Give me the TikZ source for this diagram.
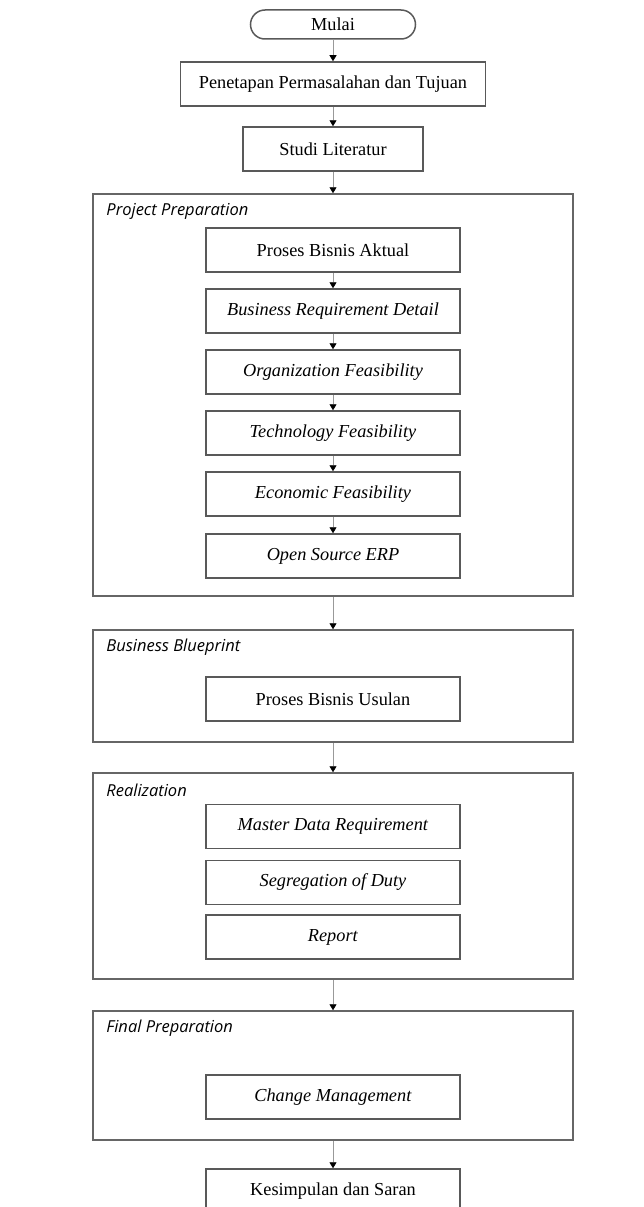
\documentclass[tikz,border=0pt]{standalone}
\usepackage{fontspec}
\setmainfont{Liberation Serif}
\newfontfamily\labfont{Open Sans}
\usetikzlibrary{arrows.meta}
\usetikzlibrary{shapes.misc}
\tikzset{stepbox/.style={rectangle, draw=black!65, line width=1.5pt, minimum height=44pt, inner sep=0pt, font=\fontsize{18.3}{21}\selectfont}}
\tikzset{phase/.style={rectangle, draw=black!60, line width=1.5pt, minimum width=480pt, inner sep=0pt}}
\tikzset{phaselabel/.style={anchor=west, inner sep=0pt, font=\labfont\itshape\fontsize{16.5}{19}\selectfont}}
\tikzset{flow/.style={draw=black!40, line width=0.8pt, -{Triangle[width=7pt,length=6pt,color=black]}}}

\begin{document}
\begin{tikzpicture}[x=1pt,y=-1pt]
  \useasboundingbox (0,0) rectangle (644,1207);
  % phases
  \foreach \y/\h/\lab/\txt in {
    395/402/pp/Project Preparation,
    686/112/bb/Business Blueprint,
    876/206/rl/Realization,
    1075.5/129/fp/Final Preparation%
  } {
    \node[phase, minimum height=\h pt] (\lab) at (333, \y) {};
    \node[phaselabel] (\lab-t) at ([xshift=14pt,yshift=-18pt]\lab.north west) {\txt};
  }
  % steps
  \node[rounded rectangle, draw=black!65, line width=1.5pt, minimum width=165pt, minimum height=29pt, inner sep=0pt, font=\fontsize{18.3}{21}\selectfont] (mulai) at (333, 24.5) {Mulai};
  \foreach \y/\w/\lab/\txt in {
    84/305/pen/Penetapan Permasalahan dan Tujuan,
    149/180/studi/Studi Literatur,
    250/254/aktual/Proses Bisnis Aktual,
    311/254/brd/\textit{Business Requirement Detail},
    372/254/org/\textit{Organization Feasibility},
    433/254/tech/\textit{Technology Feasibility},
    494/254/econ/\textit{Economic Feasibility},
    556/254/oss/\textit{Open Source ERP},
    699/254/usulan/Proses Bisnis Usulan,
    826.5/254/mdr/\textit{Master Data Requirement},
    882.5/254/sod/\textit{Segregation of Duty},
    937/254/rep/\textit{Report},
    1097/254/cm/\textit{Change Management},
    1191/254/kes/Kesimpulan dan Saran%
  } {
    \node[stepbox, minimum width=\w pt] (\lab) at (333, \y) {\txt};
  }
  % connectors
  \foreach \u/\v in {
    mulai/pen,
    pen/studi,
    studi/pp,
    aktual/brd,
    brd/org,
    org/tech,
    tech/econ,
    econ/oss,
    pp/bb,
    bb/rl,
    rl/fp,
    fp/kes%
  }{
    \draw[flow] (\u.south) -- (\v.north);
  }
\end{tikzpicture}
\end{document}
